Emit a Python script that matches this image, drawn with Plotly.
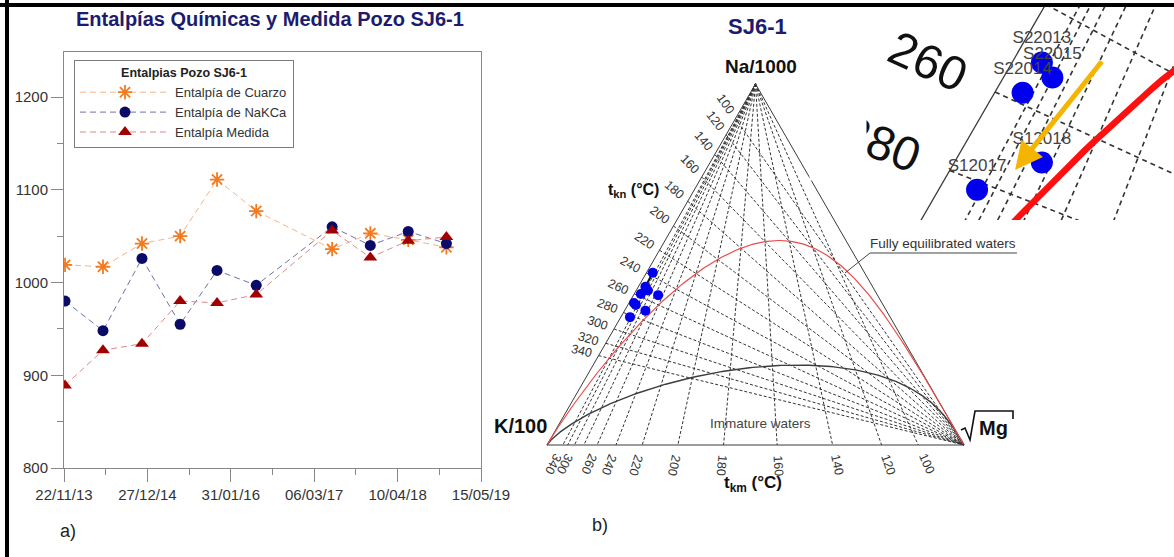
import numpy as np
import plotly.graph_objects as go

W, H = 1174, 557
FONT = "Arial, Liberation Sans, sans-serif"

# ---------------- Panel a) enthalpy time series ----------------
fechas = ["2013-11-27", "2014-05-28", "2014-12-01", "2015-06-02", "2015-11-26",
          "2016-06-01", "2017-05-31", "2017-11-30", "2018-05-31", "2018-11-30"]
h_cuarzo = [1019, 1017, 1042, 1050, 1111, 1077, 1036, 1053, 1046, 1038]
h_nakca = [980, 948, 1026, 955, 1013, 997, 1060, 1040, 1055, 1042]
h_medida = [889, 927, 934, 980, 978, 987, 1056, 1027, 1045, 1049]

# ---------------- Panel b) Na-K-Mg ternary (Giggenbach) ----------------
etiquetas = ["", "S22013", "S22015", "S22014", "", "", "", "S12018", "S12017"]
na_1000 = [47.7, 43.8, 42.8, 41.8, 41.5, 38.8, 39.3, 37.2, 35.4]
k_100 = [50.8, 54.5, 54.4, 56.6, 52.6, 59.3, 59.5, 57.8, 62.4]
raiz_mg = [1.5, 1.7, 2.8, 1.6, 5.9, 1.9, 1.2, 5.0, 2.2]

isotermas = list(range(100, 341, 20))
etiq_tkn = list(range(100, 341, 20))
etiq_tkm = [340, 300, 260, 240, 220, 200, 180, 160, 140, 120, 100]

SQ3 = np.sqrt(3) / 2


def px(x):
    return x / W


def py(y):
    return 1 - y / H


def cart(na, k, mg):
    na, k, mg = (np.asarray(v, dtype=float) for v in (na, k, mg))
    s = na + k + mg
    return (mg + 0.5 * na) / s, SQ3 * na / s


def na_k(t):
    # Na/K ratio of the Na-K geothermometer
    return 10 ** (1390.0 / (t + 273.15) - 1.75)


def k2_mg(t):
    # K^2/Mg ratio of the K-Mg geothermometer
    return 10 ** (14.0 - 4410.0 / (t + 273.15))


def edge_tkn(t):
    return cart(na_k(t) / 10.0, 1.0, 0.0)


def edge_tkm(t):
    return cart(0.0, np.sqrt(k2_mg(t)) / 100.0, 1.0)


# curves of the diagram
u = np.linspace(0.0, 6.0, 700)          # 1000/T(K)
fe_x, fe_y = cart(10 ** (1.39 * u - 1.75) / 10.0, 1.0,
                  100.0 * 10 ** (-(14.0 - 4.41 * u) / 2.0))
v = np.linspace(-3.0, 8.0, 900)         # log(Na/K)
mi_x, mi_y = cart(10 ** v / 10.0, 1.0, 100.0 * 10 ** (-((2.0 - v) / 0.315) / 2.0))
tri_x, tri_y = cart([0, 0, 1, 0], [1, 0, 0, 1], [0, 1, 0, 0])
mg_x, mg_y = cart(0, 0, 1)
na_x, na_y = cart(1, 0, 0)

grid_x, grid_y = [], []
for t in isotermas:
    ex, ey = edge_tkn(t)
    grid_x += [float(ex), float(mg_x), None]
    grid_y += [float(ey), float(mg_y), None]
    bx, by = edge_tkm(t)
    grid_x += [float(na_x), float(bx), None]
    grid_y += [float(na_y), float(by), None]

pts_x, pts_y = cart(na_1000, k_100, raiz_mg)

fig = go.Figure()

# ---- panel a traces ----
fig.add_trace(go.Scatter(
    x=fechas, y=h_cuarzo, name="Entalpía de Cuarzo", mode="lines+markers",
    line=dict(color="#f2b48a", width=1, dash="6px,4px"),
    marker=dict(symbol="asterisk-open", size=12, color="#f47a1f",
                line=dict(color="#f47a1f", width=1.8)),
    xaxis="x", yaxis="y"))
fig.add_trace(go.Scatter(
    x=fechas, y=h_nakca, name="Entalpía de NaKCa", mode="lines+markers",
    line=dict(color="#7070a8", width=1, dash="6px,4px"),
    marker=dict(symbol="circle", size=11, color="#0a0a68"),
    xaxis="x", yaxis="y"))
fig.add_trace(go.Scatter(
    x=fechas, y=h_medida, name="Entalpía Medida", mode="lines+markers",
    line=dict(color="#d98a8a", width=1, dash="6px,4px"),
    marker=dict(symbol="triangle-up", size=12, color="#a00000"),
    xaxis="x", yaxis="y"))


def add_diagram(xa, ya, k, grid_w, dash, edge_w, red_w, red_c, pt_size, labels):
    fig.add_trace(go.Scatter(x=grid_x, y=grid_y, mode="lines", showlegend=False,
                             line=dict(color="#333333", width=grid_w, dash=dash),
                             hoverinfo="skip", xaxis=xa, yaxis=ya))
    fig.add_trace(go.Scatter(x=tri_x, y=tri_y, mode="lines", showlegend=False,
                             line=dict(color="#3a3a3a", width=edge_w),
                             hoverinfo="skip", xaxis=xa, yaxis=ya))
    fig.add_trace(go.Scatter(x=mi_x, y=mi_y, mode="lines", showlegend=False,
                             line=dict(color="#3c3c3c", width=1.4 * k),
                             hoverinfo="skip", xaxis=xa, yaxis=ya))
    fig.add_trace(go.Scatter(x=fe_x, y=fe_y, mode="lines", showlegend=False,
                             line=dict(color=red_c, width=red_w),
                             hoverinfo="skip", xaxis=xa, yaxis=ya))
    if labels:
        sel = [i for i, s in enumerate(etiquetas) if s]
        fig.add_trace(go.Scatter(
            x=pts_x[sel], y=pts_y[sel], mode="markers+text", showlegend=False,
            text=[etiquetas[i] for i in sel], textposition="top center",
            textfont=dict(family=FONT, size=17, color="#444444"),
            marker=dict(size=pt_size, color="#0000ee"),
            xaxis=xa, yaxis=ya))
    else:
        fig.add_trace(go.Scatter(x=[pts_x[0], pts_x[1]], y=[pts_y[0], pts_y[1]],
                                 mode="lines", showlegend=False,
                                 line=dict(color="#111111", width=2),
                                 xaxis=xa, yaxis=ya))
        fig.add_trace(go.Scatter(x=pts_x, y=pts_y, mode="markers", showlegend=False,
                                 marker=dict(size=pt_size, color="#0000ee"),
                                 xaxis=xa, yaxis=ya))


add_diagram("x2", "y2", 1.0, 1.0, "3px,2px", 1.0, 1.2, "#ea4a4a", 10, False)
add_diagram("x3", "y3", 1.0, 1.6, "5px,4px", 1.3, 6.5, "#ff1010", 22, True)

# ---- layout geometry ----
S2 = 417.0                       # px per unit, main diagram
K0 = (547.0, 445.0)              # pixel of the K/100 corner
x2r = [-0.2, 1.15]
y2r = [-0.2, 1.0]
x2dom = [px(K0[0] + x2r[0] * S2), px(K0[0] + x2r[1] * S2)]
y2dom = [py(K0[1] - y2r[0] * S2), py(K0[1] - y2r[1] * S2)]

S3 = S2 * 4.2                    # magnified view
x3r = [0.1333, 0.1333 + 312 / S3]
y3r = [0.4121 - 215 / S3, 0.4121]

annotations = []


def ann(text, x, y, size, color="#222222", bold=False, xref="paper", yref="paper",
        angle=0, xanchor="center", yanchor="middle"):
    annotations.append(dict(
        text=f"<b>{text}</b>" if bold else text, x=x, y=y, xref=xref, yref=yref,
        showarrow=False, textangle=angle, xanchor=xanchor, yanchor=yanchor,
        font=dict(family=FONT, size=size, color=color)))


# titles and panel letters
ann("Entalpías Químicas y Medida Pozo SJ6-1", px(270), py(19), 20, "#1c1c6e", True)
ann("a)", px(68), py(531), 18)
ann("b)", px(600), py(525), 18)
ann("SJ6-1", px(757), py(26), 22, "#1c1c6e", True)
ann("Na/1000", px(761), py(67), 19, "#111111", True)
ann("K/100", px(520), py(426), 20, "#111111", True)
ann("Mg", px(993), py(428), 20, "#111111", True)
ann("t<sub>kn</sub> (°C)", px(633), py(191), 16, "#111111", True)
ann("t<sub>km</sub> (°C)", px(753), py(484), 17, "#111111", True)
ann("Immature waters", 0.5108, 0.052, 13.5, "#444444", xref="x2", yref="y2")
ann("Fully equilibrated waters", 0.9508, 0.4844, 13.5, "#333333",
    xref="x2", yref="y2")

# isotherm labels on the main diagram and on the magnified view
for t in etiq_tkn:
    ex, ey = (float(a) for a in edge_tkn(t))
    dx, dy = ex - 1.0, ey
    n = np.hypot(dx, dy)
    lx, ly = ex + 0.042 * dx / n, ey + 0.042 * dy / n
    ang = float(np.degrees(np.arctan2(ey, 1.0 - ex)))
    ann(str(t), lx, ly, 12.5, "#333333", xref="x2", yref="y2", angle=ang)
    if x3r[0] <= lx <= x3r[1] and y3r[0] <= ly <= y3r[1]:
        ann(str(t), lx, ly, 48, "#111111", xref="x3", yref="y3", angle=ang)
for t in etiq_tkm:
    bx, by = (float(a) for a in edge_tkm(t))
    dx, dy = bx - float(na_x), by - float(na_y)
    n = np.hypot(dx, dy)
    lx, ly = bx + 0.05 * dx / n, by + 0.05 * dy / n
    ang = float(np.degrees(np.arctan2(-dy, dx)))
    ann(str(t), lx, ly, 12.5, "#333333", xref="x2", yref="y2", angle=ang)

# blank strip that trims the magnified view on its left side
annotations.append(dict(text=" ", x=px(838), y=py(145), xref="paper", yref="paper",
                        showarrow=False, width=56, height=70, bgcolor="white",
                        borderpad=0, xanchor="center", yanchor="middle"))

# trend arrow in the magnified view
annotations.append(dict(x=0.2207, y=0.3179, ax=0.2709, ay=0.3807,
                        xref="x3", yref="y3", axref="x3", ayref="y3",
                        showarrow=True, arrowhead=2, arrowsize=1.1, arrowwidth=5,
                        arrowcolor="#f5b400", text=""))

shapes = [
    # leader for the equilibrium curve label
    dict(type="line", xref="x2", yref="y2", x0=0.7146, y0=0.4125, x1=0.7746, y1=0.4604,
         line=dict(color="#444444", width=1)),
    dict(type="line", xref="x2", yref="y2", x0=0.7746, y0=0.4604, x1=1.127, y1=0.4604,
         line=dict(color="#444444", width=1)),
    # radical sign over Mg
    dict(type="path", xref="paper", yref="paper",
         path=(f"M{px(961)},{py(430)} L{px(965)},{py(428)} L{px(970)},{py(440)} "
               f"L{px(975)},{py(411)} L{px(1013)},{py(411)} L{px(1013)},{py(419)}"),
         line=dict(color="#111111", width=1.6)),
    # outer frame
    dict(type="line", xref="paper", yref="paper", x0=0, x1=1, y0=py(5), y1=py(5),
         line=dict(color="black", width=4)),
    dict(type="line", xref="paper", yref="paper", x0=px(7), x1=px(7), y0=0, y1=1,
         line=dict(color="black", width=4)),
]

DAY = 86400000
fig.update_layout(
    width=W, height=H, margin=dict(l=0, r=0, t=0, b=0, autoexpand=False),
    paper_bgcolor="white", plot_bgcolor="rgba(0,0,0,0)",
    font=dict(family=FONT, size=15, color="#333333"),
    showlegend=True,
    legend=dict(x=px(74), y=py(60), xanchor="left", yanchor="top",
                bgcolor="white", bordercolor="#7a7a7a", borderwidth=1,
                font=dict(family=FONT, size=13, color="#333333"),
                title=dict(text="<b>Entalpias Pozo SJ6-1</b>", side="top center",
                           font=dict(family=FONT, size=12.5, color="#222222")),
                itemwidth=90, tracegroupgap=0),
    xaxis=dict(domain=[px(64), px(481)], anchor="y", type="date",
               range=["2013-11-22", "2019-05-15"], automargin=False,
               tick0="2013-11-22", dtick=400 * DAY, tickformat="%d/%m/%y",
               ticks="outside", ticklen=13, tickcolor="#888888",
               showline=True, linecolor="#888888", mirror=True, showgrid=False,
               zeroline=False, tickfont=dict(size=15, color="#333333"),
               minor=dict(ticks="outside", ticklen=6, tick0="2013-11-22",
                          dtick=200 * DAY, tickcolor="#888888", showgrid=False)),
    yaxis=dict(domain=[py(468), py(52)], anchor="x", automargin=False,
               range=[800, 800 + (468 - 52) / 0.9275],
               tick0=800, dtick=100, ticks="outside", ticklen=12,
               tickcolor="#888888", showline=True, linecolor="#888888",
               mirror=True, showgrid=False, zeroline=False,
               tickfont=dict(size=15, color="#333333"),
               minor=dict(ticks="outside", ticklen=6, dtick=50,
                          tickcolor="#888888", showgrid=False)),
    xaxis2=dict(domain=x2dom, range=x2r, anchor="y2", visible=False, fixedrange=True,
                automargin=False),
    yaxis2=dict(domain=y2dom, range=y2r, anchor="x2", visible=False, fixedrange=True,
                automargin=False),
    xaxis3=dict(domain=[px(862), 1.0], range=x3r, anchor="y3", visible=False,
                fixedrange=True, automargin=False),
    yaxis3=dict(domain=[py(220), py(5)], range=y3r, anchor="x3", visible=False,
                fixedrange=True, automargin=False),
    annotations=annotations,
    shapes=shapes,
)

fig.write_html("out.html")
